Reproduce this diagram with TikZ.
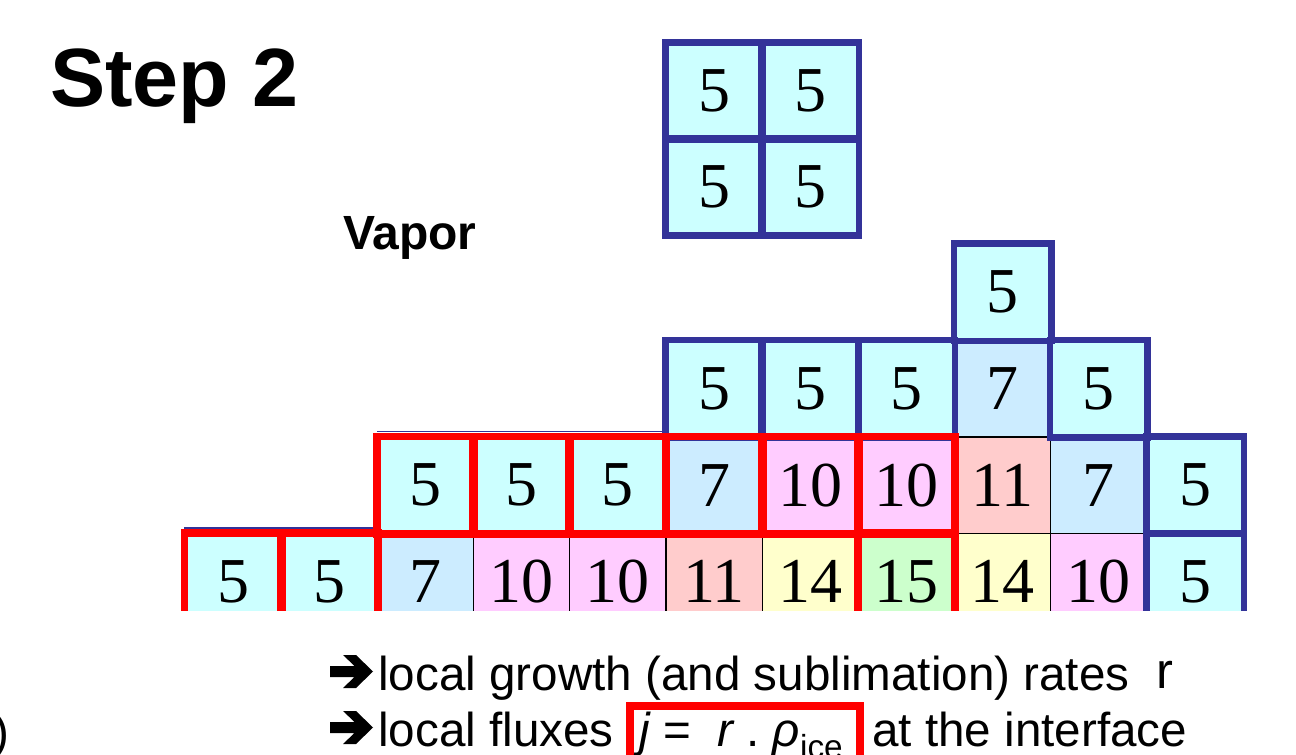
\documentclass[tikz,border=0pt]{standalone}
\usepackage{fontspec}
\setmainfont{Liberation Sans}
\newfontfamily\numfont{Liberation Serif}
\definecolor{vap}{HTML}{CCFFFF}
\definecolor{cseven}{HTML}{CCECFF}
\definecolor{cten}{HTML}{FFCCFF}
\definecolor{celeven}{HTML}{FFCCCC}
\definecolor{cfourteen}{HTML}{FFFFCC}
\definecolor{cfifteen}{HTML}{CCFFCC}
\definecolor{bord}{HTML}{333399}
\definecolor{redline}{HTML}{FF0000}
\tikzset{
  cellbox/.style={draw=black, line width=0.9pt, minimum width=72.15pt, minimum height=72.4pt,
    inner sep=0pt, font=\numfont\fontsize{48pt}{48pt}\selectfont},
  bluebox/.style={draw=bord, line width=4.9pt},
  redbox/.style={draw=redline, line width=5.6pt},
  bigtxt/.style={font=\fontsize{35.7pt}{42pt}\selectfont, inner sep=0pt},
  bulletarrow/.style={fill=black, draw=none},
}
\begin{document}
\begin{tikzpicture}[x=0.75pt,y=-0.75pt]
\useasboundingbox (0,0) rectangle (1296,755);
% title and label
\node[anchor=base west, inner sep=0pt, font=\bfseries\fontsize{62pt}{70pt}\selectfont] (title) at (50,107) {Step 2};
\node[anchor=base west, inner sep=0pt, font=\bfseries\fontsize{36pt}{40pt}\selectfont] (vapor) at (343,250) {Vapor};
% top 2x2 vapor block
\foreach \i/\xx/\yy in {1/714.1/91,2/810.3/91,3/714.1/187,4/810.3/187}
  \node[cellbox, fill=vap, minimum height=72pt] (t\i) at (\xx,\yy) {5};
\foreach \i in {1,...,4} \draw[bluebox] (t\i.south west) rectangle (t\i.north east);
\begin{scope}
\clip (0,0) rectangle (1296,610);
% row 2
\node[cellbox, fill=vap] (r2c8) at ({233.1+96.2*8},292.25) {5};
% row 3
\foreach \c/\v/\f in {5/5/vap,6/5/vap,7/5/vap,8/7/cseven,9/5/vap}
  \node[cellbox, fill=\f] (r3c\c) at ({233.1+96.2*\c},388.75) {\v};
% row 4
\foreach \c/\v/\f in {2/5/vap,3/5/vap,4/5/vap,5/7/cseven,6/10/cten,7/10/cten,8/11/celeven,9/7/cseven,10/5/vap}
  \node[cellbox, fill=\f] (r4c\c) at ({233.1+96.2*\c},485.25) {\v};
% row 5
\foreach \c/\v/\f in {0/5/vap,1/5/vap,2/7/cseven,3/10/cten,4/10/cten,5/11/celeven,6/14/cfourteen,7/15/cfifteen,8/14/cfourteen,9/10/cten,10/5/vap}
  \node[cellbox, fill=\f] (r5c\c) at ({233.1+96.2*\c},581.75) {\v};
% blue outlines (vapor cells)
\foreach \n in {r2c8,r3c5,r3c6,r3c7,r3c9,r4c10,r5c10}
  \draw[bluebox] (\n.south west) rectangle (\n.north east);
\draw[draw=bord, line width=1.3pt] ([yshift=3.6pt]r4c2.north west) -- ([yshift=3.6pt]r4c4.north east);
\draw[draw=bord, line width=1.3pt] ([yshift=3.6pt]r5c0.north west) -- ([yshift=3.6pt]r5c1.north east);
% red outlines (interface cells)
\foreach \n in {r4c2,r4c3,r4c4,r4c5,r4c6,r4c7,r5c0,r5c1,r5c7}
  \draw[redbox] (\n.south west) rectangle (\n.north east);
\end{scope}
% bullet arrows
\foreach \dy in {0,56}
  \fill[bulletarrow] (330,666+\dy) -- (354.5,666+\dy) -- (343,655+\dy) -- (356,655+\dy) -- (373,671.5+\dy)
     -- (356,688+\dy) -- (343,688+\dy) -- (354.5,677+\dy) -- (330,677+\dy) -- cycle;
% bottom text
\node[bigtxt, anchor=base west] (line1) at (378,690) {local growth (and sublimation) rates};
\node[anchor=base west, inner sep=0pt, font=\fontsize{38pt}{42pt}\selectfont] (rsym) at (1156,688) {r};
\node[bigtxt, anchor=base west] (line2) at (378,746) {local fluxes};
\node[draw=redline, line width=5.8pt, minimum width=172.5pt, minimum height=60pt, anchor=north west, inner sep=0pt] (jbox) at (626,702) {};
\node[bigtxt, anchor=base west] (jtext) at (639,746) {\itshape j\upshape\ =\ \ \itshape r\upshape\ .\ \itshape ρ\upshape\textsubscript{ice}};
\node[bigtxt, anchor=base west] (line2b) at (872,746) {at the interface};
\node[bigtxt, anchor=base east] (paren) at (10,748) {)};
\end{tikzpicture}
\end{document}
